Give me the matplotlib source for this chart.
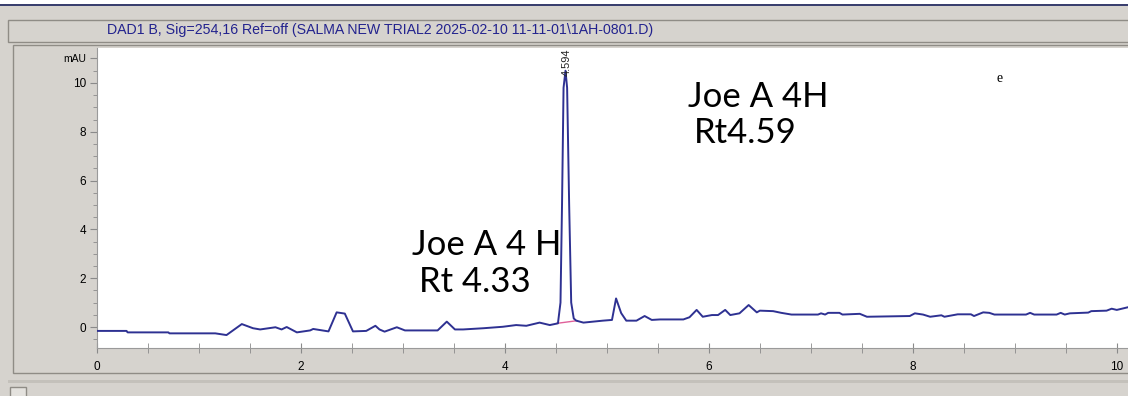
import numpy as np
import matplotlib
matplotlib.use("Agg")
import matplotlib.pyplot as plt
from matplotlib.patches import Rectangle
from matplotlib.ticker import MultipleLocator

# chromatogram trace (min, mAU)
rt = [0.0, 0.29, 0.30, 0.70, 0.71, 1.16, 1.27, 1.42, 1.53, 1.60, 1.75, 1.81, 1.86,
      1.96, 2.09, 2.12, 2.27, 2.35, 2.43, 2.51, 2.64, 2.73, 2.77, 2.82, 2.94, 3.02,
      3.34, 3.43, 3.51, 3.59, 3.79, 3.98, 4.11, 4.21, 4.34, 4.44, 4.52, 4.545, 4.56,
      4.575, 4.594, 4.61, 4.63, 4.65, 4.675, 4.70, 4.77, 4.96, 5.05, 5.09, 5.14,
      5.19, 5.29, 5.37, 5.44, 5.52, 5.75, 5.81, 5.88, 5.94, 6.03, 6.09, 6.16, 6.21,
      6.30, 6.39, 6.47, 6.50, 6.63, 6.71, 6.81, 7.07, 7.10, 7.14, 7.17, 7.28, 7.31,
      7.48, 7.55, 7.97, 8.02, 8.10, 8.17, 8.28, 8.31, 8.44, 8.57, 8.60, 8.69, 8.75,
      8.80, 9.11, 9.15, 9.19, 9.41, 9.45, 9.49, 9.54, 9.72, 9.75, 9.90, 9.95, 10.0,
      10.11]
mau = [-0.16, -0.16, -0.22, -0.22, -0.26, -0.26, -0.33, 0.12, -0.05, -0.10, -0.01,
       -0.10, 0.0, -0.22, -0.14, -0.08, -0.18, 0.60, 0.55, -0.18, -0.16, 0.05, -0.10,
       -0.19, -0.01, -0.14, -0.14, 0.22, -0.10, -0.10, -0.05, 0.01, 0.08, 0.05, 0.18,
       0.08, 0.15, 1.0, 5.0, 9.8, 10.5, 9.8, 5.0, 1.0, 0.35, 0.26, 0.18, 0.26, 0.29,
       1.17, 0.57, 0.26, 0.26, 0.45, 0.29, 0.31, 0.31, 0.40, 0.70, 0.42, 0.49, 0.49,
       0.70, 0.49, 0.56, 0.90, 0.60, 0.67, 0.65, 0.58, 0.51, 0.51, 0.56, 0.51, 0.58,
       0.58, 0.51, 0.54, 0.42, 0.45, 0.56, 0.51, 0.42, 0.48, 0.42, 0.52, 0.52, 0.45,
       0.60, 0.58, 0.51, 0.51, 0.58, 0.51, 0.51, 0.58, 0.51, 0.56, 0.59, 0.65, 0.67,
       0.75, 0.70, 0.81]

# integration baseline under the main peak
base_rt = [4.51, 4.71]
base_mau = [0.15, 0.26]

peak_rt = 4.594
title = r"DAD1 B, Sig=254,16 Ref=off (SALMA NEW TRIAL2 2025-02-10 11-11-01\1AH-0801.D)"

W, H = 1128, 396
fig = plt.figure(figsize=(W / 100, H / 100), dpi=100)
fig.patch.set_facecolor("#d6d3ce")

def px_rect(x0, y0, x1, y1, **kw):
    # rectangle given in image pixels (top-left origin), kept behind the axes
    fig.add_artist(Rectangle((x0 / W, 1 - y1 / H), (x1 - x0) / W, (y1 - y0) / H,
                             transform=fig.transFigure, zorder=-5, **kw))

# window chrome
px_rect(0, 0, W, 4, facecolor="white", edgecolor="none")
px_rect(0, 4, W, 6, facecolor="#3a3f6e", edgecolor="none")
px_rect(8, 20, W + 5, 42, facecolor="#d6d3ce", edgecolor="#8f8c86", lw=1)
px_rect(13, 45, W + 5, 373, facecolor="#d6d3ce", edgecolor="#8f8c86", lw=1)
px_rect(8, 380, W + 5, 383, facecolor="#c4c1bb", edgecolor="none")
px_rect(10, 387, 26, 400, facecolor="#e4e2de", edgecolor="#8f8c86", lw=1)

fig.text(380 / W, 1 - 30 / H, title, ha="center", va="center", color="#23238e",
         fontsize=10.2, family="Liberation Sans")

ax = fig.add_axes([97 / W, 48 / H, 1031 / W, 300 / H])
ax.set_zorder(2)
ax.set_facecolor("white")
ax.plot(rt, mau, color="#2e3192", lw=1.4, zorder=3)
ax.plot(base_rt, base_mau, color="#e0609a", lw=1.0, zorder=2)

ax.set_xlim(0, 10.11)
ax.set_ylim(-0.86, 11.43)
ax.xaxis.set_major_locator(MultipleLocator(2))
ax.xaxis.set_minor_locator(MultipleLocator(0.5))
ax.set_yticks([0, 2, 4, 6, 8, 10, 11])
ax.set_yticklabels(["0", "2", "4", "6", "8", "10", "mAU"])
ax.yaxis.set_minor_locator(MultipleLocator(0.5))
for s in ["top", "right"]:
    ax.spines[s].set_visible(False)
for s in ["left", "bottom"]:
    ax.spines[s].set_color("#9a9a9a")
ax.tick_params(axis="x", which="both", direction="inout", length=7, color="#8a8a8a",
               labelsize=8.5, pad=6)
ax.tick_params(axis="y", which="major", direction="out", length=5, color="#8a8a8a",
               labelsize=8.5, pad=3)
ax.tick_params(axis="y", which="minor", direction="out", length=3, color="#8a8a8a")
for lab in ax.get_xticklabels() + ax.get_yticklabels():
    lab.set_family("Liberation Sans")
ax.get_yticklabels()[-1].set_fontsize(7.5)

ax.text(peak_rt + 0.01, 10.85, "4.594", rotation=90, ha="center", va="center",
        fontsize=8, family="Liberation Sans", color="#222222")

ax.text(6.48, 9.43, "Joe A 4H", ha="center", va="center", fontsize=25, family="Lato")
ax.text(6.36, 7.95, "Rt4.59", ha="center", va="center", fontsize=25, family="Lato")
ax.text(3.82, 3.36, "Joe A 4 H", ha="center", va="center", fontsize=25, family="Lato")
ax.text(3.71, 1.84, "Rt 4.33", ha="center", va="center", fontsize=25, family="Lato")
ax.text(8.85, 10.2, "e", ha="center", va="center", fontsize=10, family="Liberation Serif")

fig.savefig("out.png", dpi=100, facecolor=fig.get_facecolor())
